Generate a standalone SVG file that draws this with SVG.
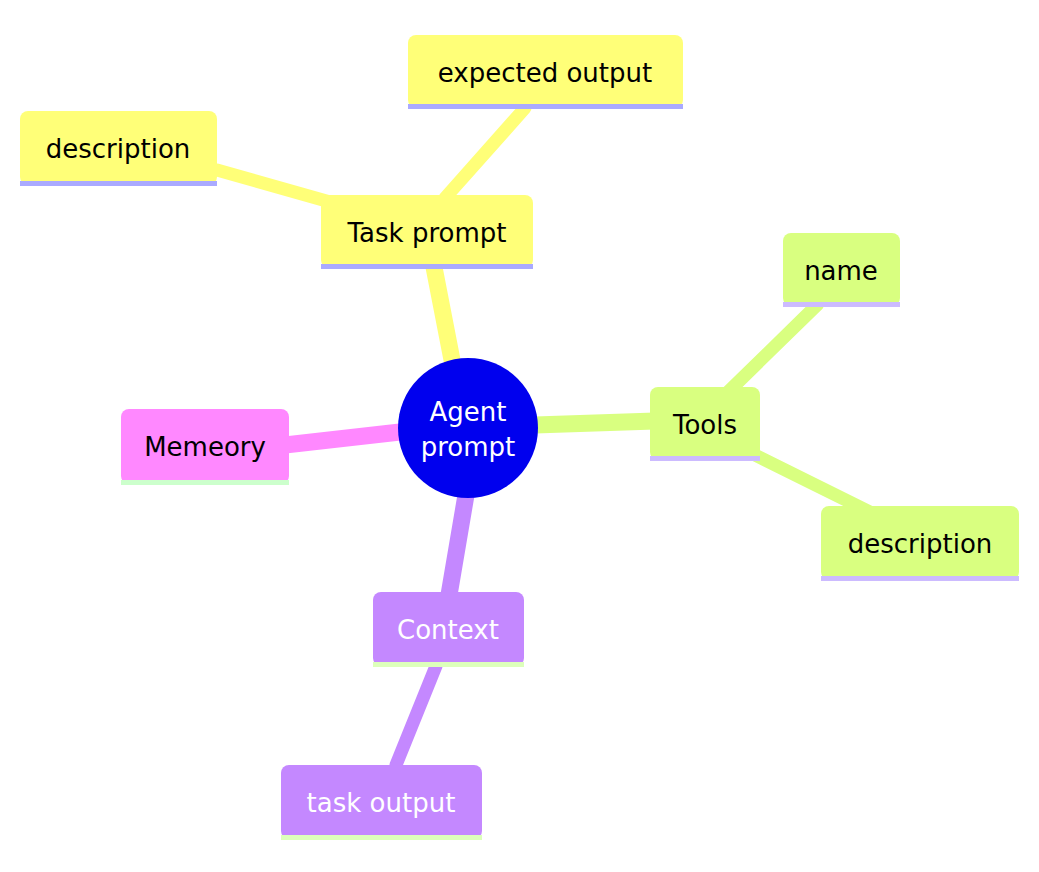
<svg xmlns="http://www.w3.org/2000/svg" width="1039" height="872" viewBox="0 0 1039 872">
<style>
text{font-family:"DejaVu Sans","Liberation Sans",sans-serif;font-size:26px;text-anchor:middle;dominant-baseline:central}
.y{fill:#ffff78}.g{fill:#d9ff80}.p{fill:#ff88ff}.v{fill:#c488ff}
.e{fill:none;stroke-linecap:round}
</style>
<rect width="1039" height="872" fill="#fff"/>
<g id="connectors">
<g class="e" stroke="#ffff78">
<line x1="452" y1="360" x2="433" y2="262" stroke-width="17"/>
<line x1="330" y1="202" x2="217" y2="170" stroke-width="13"/>
<line x1="445" y1="198" x2="525" y2="108" stroke-width="13"/>
</g>
<g class="e" stroke="#d9ff80">
<line x1="535" y1="425" x2="655" y2="421" stroke-width="17"/>
<line x1="728" y1="392" x2="818" y2="304" stroke-width="13"/>
<line x1="755" y1="455" x2="870" y2="512" stroke-width="13"/>
</g>
<line class="e" stroke="#ff88ff" x1="400" y1="432" x2="285" y2="445" stroke-width="17"/>
<g class="e" stroke="#c488ff">
<line x1="466" y1="495" x2="449" y2="595" stroke-width="17"/>
<line x1="436" y1="666" x2="396" y2="765" stroke-width="13"/>
</g>
</g>
<g id="expected"><rect class="y" x="408" y="35" width="275" height="73" rx="8"/><rect x="408" y="104" width="275" height="5" fill="#aaaaff"/><text x="545" y="73">expected output</text></g>
<g id="desc1"><rect class="y" x="20" y="111" width="197" height="74" rx="8"/><rect x="20" y="181" width="197" height="5" fill="#aaaaff"/><text x="118" y="149">description</text></g>
<g id="task"><rect class="y" x="321" y="195" width="212" height="73" rx="8"/><rect x="321" y="264" width="212" height="5" fill="#aaaaff"/><text x="427" y="233">Task prompt</text></g>
<g id="name"><rect class="g" x="783" y="233" width="117" height="73" rx="8"/><rect x="783" y="302" width="117" height="5" fill="#ccbbff"/><text x="841" y="271">name</text></g>
<g id="tools"><rect class="g" x="650" y="387" width="110" height="73" rx="8"/><rect x="650" y="456" width="110" height="5" fill="#ccbbff"/><text x="705" y="425">Tools</text></g>
<g id="desc2"><rect class="g" x="821" y="506" width="198" height="74" rx="8"/><rect x="821" y="576" width="198" height="5" fill="#ccbbff"/><text x="920" y="544">description</text></g>
<g id="memory"><rect class="p" x="121" y="409" width="168" height="75" rx="8"/><rect x="121" y="480" width="168" height="5" fill="#ccffcc"/><text x="205" y="447">Memeory</text></g>
<g id="context"><rect class="v" x="373" y="592" width="151" height="74" rx="8"/><rect x="373" y="662" width="151" height="5" fill="#ddffbb"/><text x="448" y="630" fill="#fff">Context</text></g>
<g id="taskout"><rect class="v" x="281" y="765" width="201" height="74" rx="8"/><rect x="281" y="835" width="201" height="5" fill="#ddffbb"/><text x="381" y="803" fill="#fff">task output</text></g>
<g id="root"><circle cx="468" cy="428" r="70" fill="#0000ee"/><text x="468" y="412" fill="#fff">Agent</text><text x="468" y="447" fill="#fff">prompt</text></g>
</svg>
